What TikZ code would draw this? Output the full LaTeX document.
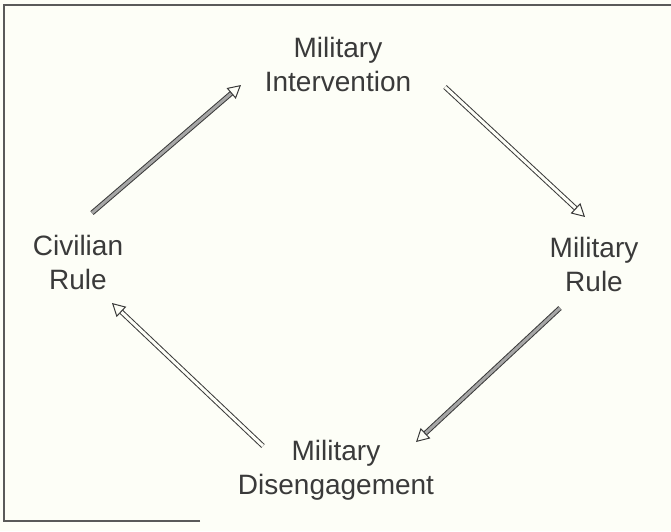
\documentclass[tikz,border=0pt]{standalone}
\usepackage{fontspec}
\setmainfont{Liberation Sans}
\usetikzlibrary{arrows.meta}
\definecolor{paper}{RGB}{253,254,247}
\definecolor{ink}{HTML}{3A3A3A}
\definecolor{rim}{HTML}{5A5A5A}
\tikzset{
  phase/.style={align=center, inner sep=0pt, text=ink,
    font=\fontsize{28}{34}\selectfont},
  cyclearr/.style={-{Triangle[open, length=13pt, width=14pt]},
    draw=ink, line width=1pt, double=paper, double distance=3pt},
  darkarr/.style={cyclearr, double=gray!70}
}

\begin{document}
\begin{tikzpicture}[x=1pt,y=-1pt]
  \fill[paper] (0,0) rectangle (671,531);
  \useasboundingbox (0,0) rectangle (671,531);
  % frame
  \draw[rim, line width=2pt] (200,521) -- (4,521) -- (4,5) -- (671,5);

  \node[phase] (intervention) at (338,64) {Military\\Intervention};
  \node[phase] (milrule) at (594,264) {Military\\Rule};
  \node[phase] (disengage) at (336,470) {Military\\Disengagement};
  \node[phase] (civilian) at (78,262) {Civilian\\Rule};

  % the cycle
  \draw[darkarr] ([shift={(14,-49)}]civilian.center) -- ([shift={(-97,21)}]intervention.center);
  \draw[cyclearr] ([shift={(107,23)}]intervention.center) -- ([shift={(-9,-47)}]milrule.center);
  \draw[darkarr] ([shift={(-34,44)}]milrule.center) -- ([shift={(80,-28)}]disengage.center);
  \draw[cyclearr] ([shift={(-73,-24)}]disengage.center) -- ([shift={(34,41)}]civilian.center);
\end{tikzpicture}
\end{document}
